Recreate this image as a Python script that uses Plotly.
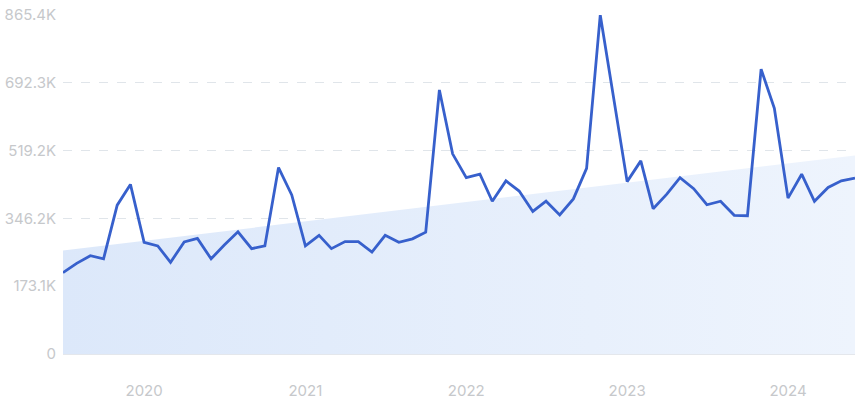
import plotly.graph_objects as go
import pandas as pd

# Monthly dates: Jul 2019 .. Jun 2024
months = pd.date_range("2019-07-01", "2024-06-01", freq="MS").strftime("%Y-%m-%d").tolist()

values = [
    207500, 231500, 251000, 243000, 380000, 433000, 285000, 276000, 234000, 286000,
    295000, 243000, 278000, 312000, 269000, 276000, 476000, 406000, 276000, 303000,
    269000, 287000, 287000, 260000, 303000, 285000, 294000, 311000, 674000, 511000,
    450000, 459000, 390000, 442000, 416000, 364000, 390000, 355000, 396000, 474000,
    865400, 652000, 440000, 493000, 371000, 408000, 450000, 422000, 381000, 390000,
    354000, 353000, 727000, 627000, 398000, 459000, 390000, 425000, 442000, 449000,
]

trend_dates = ["2019-07-01", "2024-06-01"]
trend_values = [264000, 507000]

y_tickvals = [0, 173100, 346200, 519200, 692300, 865400]
y_ticktext = ["0", "173.1K", "346.2K", "519.2K", "692.3K", "865.4K"]
x_tickvals = ["2020-01-01", "2021-01-01", "2022-01-01", "2023-01-01", "2024-01-01"]
x_ticktext = ["2020", "2021", "2022", "2023", "2024"]

fig = go.Figure()
fig.add_trace(go.Scatter(
    x=trend_dates, y=trend_values, mode="lines", line=dict(width=0),
    fill="tozeroy",
    fillgradient=dict(type="horizontal",
                      colorscale=[[0, "#dce8fa"], [1, "#eef4fd"]]),
    hoverinfo="skip", showlegend=False,
))
fig.add_trace(go.Scatter(
    x=months, y=values, mode="lines",
    line=dict(color="#3760cc", width=2.8),
    showlegend=False,
))

fig.update_layout(
    width=863, height=400,
    margin=dict(l=63, r=8, t=15, b=46),
    paper_bgcolor="white", plot_bgcolor="white",
    font=dict(family="Inter", size=15, color="#c6c8cb"),
    hovermode=False,
)
fig.update_xaxes(
    range=["2019-07-01", "2024-06-01"],
    tickvals=x_tickvals, ticktext=x_ticktext,
    showgrid=False, showline=True, linecolor="#e4e7ec", linewidth=1,
    ticks="outside", ticklen=23, tickcolor="rgba(0,0,0,0)",
    zeroline=False, automargin=False, ticklabeloverflow="allow",
)
fig.update_yaxes(
    range=[0, 865400],
    tickvals=y_tickvals, ticktext=y_ticktext,
    showgrid=True, gridcolor="#e0e5ea", griddash="dash", gridwidth=1,
    zeroline=False, showline=False,
    ticks="outside", ticklen=3, tickcolor="rgba(0,0,0,0)",
    automargin=False, ticklabeloverflow="allow",
)

fig.write_html("out.html",
               config={"displayModeBar": False},
               post_script="document.body.style.margin='0';document.body.style.padding='0';")
